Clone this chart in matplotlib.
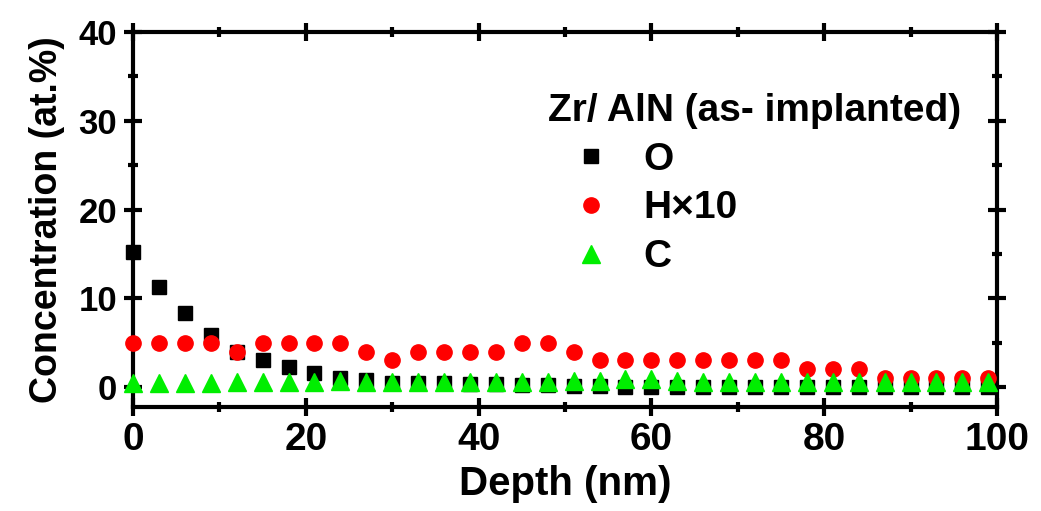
import matplotlib
matplotlib.use("Agg")
import matplotlib.pyplot as plt
from matplotlib.ticker import MultipleLocator

# depth profile (nm) and concentrations (at.%)
depth = [0, 3, 6, 9, 12, 15, 18, 21, 24, 27, 30, 33, 36, 39, 42, 45, 48, 51,
         54, 57, 60, 63, 66, 69, 72, 75, 78, 81, 84, 87, 90, 93, 96, 99]
conc_o = [15.2, 11.3, 8.3, 5.9, 3.9, 3.0, 2.3, 1.6, 1.0, 0.8, 0.5, 0.5, 0.4, 0.3,
          0.3, 0.2, 0.2, 0.1, 0.1, 0.0, 0.0, 0.0, 0.0, 0.0, 0.0, 0.0, 0.0, 0.0,
          0.0, 0.0, 0.0, 0.0, 0.0, 0.0]
conc_h10 = [5, 5, 5, 5, 4, 5, 5, 5, 5, 4, 3, 4, 4, 4, 4, 5, 5, 4,
            3, 3, 3, 3, 3, 3, 3, 3, 2, 2, 2, 1, 1, 1, 1, 1]
conc_c = [0.5, 0.5, 0.5, 0.5, 0.6, 0.6, 0.6, 0.6, 0.7, 0.6, 0.6, 0.6, 0.6, 0.6,
          0.6, 0.6, 0.6, 0.7, 0.7, 0.9, 0.9, 0.7, 0.6, 0.6, 0.6, 0.6, 0.6, 0.6,
          0.6, 0.6, 0.6, 0.6, 0.6, 0.6]

plt.rcParams.update({
    "font.family": ["Liberation Sans", "DejaVu Sans"],
    "font.weight": "bold",
})

fig = plt.figure(figsize=(10.41, 5.11), dpi=100)
ax = fig.add_axes([0.1278, 0.2035, 0.8299, 0.7339])

ax.plot(depth, conc_o, ls="none", marker="s", ms=9.5, color="black", label="O",
        clip_on=False, zorder=3)
ax.plot(depth, conc_h10, ls="none", marker="o", ms=11, color="#ff0000",
        label="H\u00d710", clip_on=False, zorder=4)
ax.plot(depth, conc_c, ls="none", marker="^", ms=13, color="#00ee00", label="C",
        clip_on=False, zorder=5)

ax.set_xlim(0, 100)
ax.set_ylim(-2.25, 40)
ax.xaxis.set_major_locator(MultipleLocator(20))
ax.xaxis.set_minor_locator(MultipleLocator(10))
ax.yaxis.set_major_locator(MultipleLocator(10))
ax.yaxis.set_minor_locator(MultipleLocator(5))

for s in ax.spines.values():
    s.set_linewidth(3)
ax.tick_params(which="both", direction="inout", top=True, right=True, width=3)
ax.tick_params(which="major", length=13)
ax.tick_params(which="minor", length=7)
ax.tick_params(axis="x", labelsize=28, pad=4)
ax.tick_params(axis="y", labelsize=25, pad=5)

ax.set_xlabel("Depth (nm)", fontsize=29, fontweight="bold", labelpad=5)
ax.set_ylabel("Concentration (at.%)", fontsize=27, fontweight="bold", labelpad=10)

leg = ax.legend(title="Zr/ AlN (as- implanted)", loc="upper left",
                bbox_to_anchor=(0.458, 0.89), frameon=False, fontsize=28,
                title_fontsize=28, alignment="left", handlelength=2.2,
                handletextpad=0.25, labelspacing=0.33, borderpad=0,
                markerscale=1.0)
leg.get_title().set_fontweight("bold")

fig.savefig("out.png", dpi=100)
